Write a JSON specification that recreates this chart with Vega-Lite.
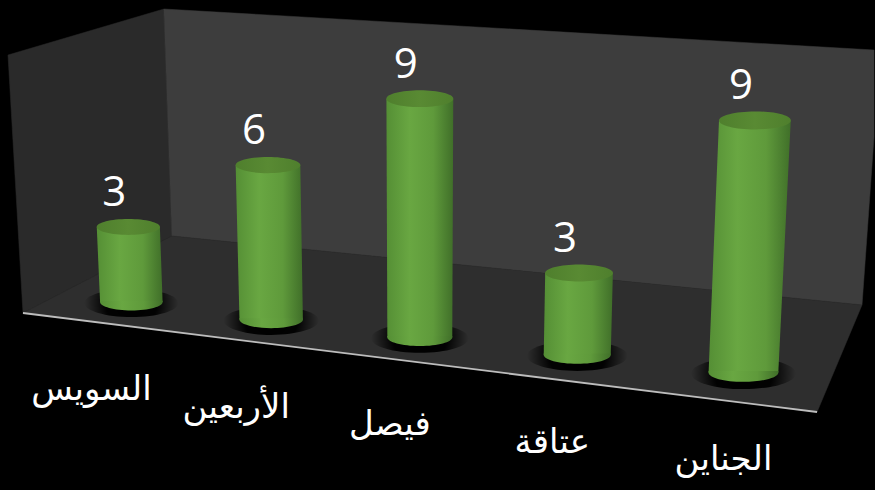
{
"$schema":"https://vega.github.io/schema/vega-lite/v6.json",
"width":875,"height":490,
"autosize":{"type":"fit","contains":"padding"},
"padding":0,
"background":"#000000",
"config":{"view":{"stroke":null},"axis":{"grid":false}},
"datasets":{
"frame":[
{"surface":"left wall","seq":1,"x":8,"y":55},
{"surface":"left wall","seq":2,"x":164,"y":9},
{"surface":"left wall","seq":3,"x":172,"y":236},
{"surface":"left wall","seq":4,"x":23,"y":313},
{"surface":"back wall","seq":1,"x":164,"y":9},
{"surface":"back wall","seq":2,"x":875,"y":50},
{"surface":"back wall","seq":3,"x":875,"y":137},
{"surface":"back wall","seq":4,"x":863,"y":305},
{"surface":"back wall","seq":5,"x":172,"y":236},
{"surface":"floor","seq":1,"x":23,"y":313},
{"surface":"floor","seq":2,"x":172,"y":236},
{"surface":"floor","seq":3,"x":863,"y":305},
{"surface":"floor","seq":4,"x":818,"y":412},
{"surface":"front edge","seq":1,"x":23,"y":313},
{"surface":"front edge","seq":2,"x":818,"y":412}
]},
"data":{"values":[
{"city":"السويس","order":0,"value":3},
{"city":"الأربعين","order":1,"value":6},
{"city":"فيصل","order":2,"value":9},
{"city":"عتاقة","order":3,"value":3},
{"city":"الجناين","order":4,"value":9}
]},
"transform":[
{"calculate":"131.5+135.6*datum.order+4.4*datum.order*datum.order","as":"bx"},
{"calculate":"302+17.6*datum.order","as":"by"},
{"calculate":"datum.value*(25+0.75*datum.order)","as":"h"},
{"calculate":"datum.by-datum.h","as":"ty"},
{"calculate":"datum.bx+0.00014*(datum.bx-420)*datum.h","as":"tx"},
{"calculate":"31.3+0.3*datum.order+0.15*datum.order*datum.order","as":"br"},
{"calculate":"datum.br+0.004*datum.h","as":"tr"},
{"calculate":"4*datum.br*datum.br","as":"baseSize"},
{"calculate":"4*datum.tr*datum.tr","as":"topSize"},
{"calculate":"9*datum.br*datum.br","as":"shadowSize"},
{"calculate":"datum.by+1","as":"shadowY"},
{"calculate":"datum.tx-14","as":"labelX"},
{"calculate":"datum.ty-34","as":"labelY"},
{"calculate":"datum.bx-40+5*datum.order","as":"cityX"},
{"calculate":"datum.by+88","as":"cityY"}
],
"layer":[
{"data":{"name":"frame"},"transform":[{"filter":"datum.surface=='left wall'"}],
"mark":{"type":"line","interpolate":"linear-closed","fill":"#2a2a2a","stroke":"#2a2a2a","strokeWidth":0.5},
"encoding":{"x":{"field":"x","type":"quantitative","scale":{"domain":[0,875]},"axis":null},"y":{"field":"y","type":"quantitative","scale":{"domain":[490,0]},"axis":null},"order":{"field":"seq"}}},
{"data":{"name":"frame"},"transform":[{"filter":"datum.surface=='back wall'"}],
"mark":{"type":"line","interpolate":"linear-closed","stroke":"#3c3c3c","strokeWidth":0.5,"fill":"#3d3d3d"},
"encoding":{"x":{"field":"x","type":"quantitative","scale":{"domain":[0,875]},"axis":null},"y":{"field":"y","type":"quantitative","scale":{"domain":[490,0]},"axis":null},"order":{"field":"seq"}}},
{"data":{"name":"frame"},"transform":[{"filter":"datum.surface=='floor'"}],
"mark":{"type":"line","interpolate":"linear-closed","fill":"#2e2e2e","stroke":"#2e2e2e","strokeWidth":0.5},
"encoding":{"x":{"field":"x","type":"quantitative","scale":{"domain":[0,875]},"axis":null},"y":{"field":"y","type":"quantitative","scale":{"domain":[490,0]},"axis":null},"order":{"field":"seq"}}},
{"data":{"name":"frame"},"transform":[{"filter":"datum.surface=='front edge'"}],
"mark":{"type":"line","stroke":"#bdbdbd","strokeWidth":1.8},
"encoding":{"x":{"field":"x","type":"quantitative","scale":{"domain":[0,875]},"axis":null},"y":{"field":"y","type":"quantitative","scale":{"domain":[490,0]},"axis":null},"order":{"field":"seq"}}},
{"mark":{"type":"point","filled":true,"opacity":1,"shape":"M-1,0 A1,0.3 0 1,0 1,0 A1,0.3 0 1,0 -1,0 Z","fill":{"gradient":"radial","x1":0.5,"y1":0.5,"r1":0,"x2":0.5,"y2":0.5,"r2":0.5,"stops":[{"offset":0,"color":"rgba(0,0,0,1)"},{"offset":0.55,"color":"rgba(0,0,0,0.95)"},{"offset":1,"color":"rgba(0,0,0,0)"}]}},
"encoding":{"x":{"field":"bx","type":"quantitative","scale":{"domain":[0,875]},"axis":null},"y":{"field":"shadowY","type":"quantitative","scale":{"domain":[490,0]},"axis":null},"size":{"field":"shadowSize","type":"quantitative","scale":null}}},
{"transform":[
{"fold":["by","ty"],"as":["end","py"]},
{"calculate":"datum.end=='by'?datum.bx-datum.br:datum.tx-datum.tr","as":"xl"},
{"calculate":"datum.end=='by'?datum.bx+datum.br:datum.tx+datum.tr","as":"xr"}],
"mark":{"type":"area","orient":"horizontal","fill":{"x1":0,"y1":0,"x2":1,"y2":0,"gradient":"linear","stops":[{"offset":0,"color":"#558f35"},{"offset":0.35,"color":"#69a742"},{"offset":0.7,"color":"#5f9a3b"},{"offset":1,"color":"#406f29"}]}},
"encoding":{"x":{"field":"xl","type":"quantitative","stack":null,"scale":{"domain":[0,875]},"axis":null},"x2":{"field":"xr"},"y":{"field":"py","type":"quantitative","scale":{"domain":[490,0]},"axis":null},"detail":{"field":"city","type":"nominal"}}},
{"mark":{"type":"point","filled":true,"opacity":1,"shape":"M-1,-0.04 L-1,0 A1,0.27 0 0,0 1,0 L1,-0.04 Z","fill":{"x1":0,"y1":0,"x2":1,"y2":0,"gradient":"linear","stops":[{"offset":0,"color":"#558f35"},{"offset":0.35,"color":"#69a742"},{"offset":0.7,"color":"#5f9a3b"},{"offset":1,"color":"#406f29"}]}},
"encoding":{"x":{"field":"bx","type":"quantitative","scale":{"domain":[0,875]},"axis":null},"y":{"field":"by","type":"quantitative","scale":{"domain":[490,0]},"axis":null},"size":{"field":"baseSize","type":"quantitative","scale":null}}},
{"mark":{"type":"point","filled":true,"opacity":1,"shape":"M-1,0 A1,0.25 0 1,0 1,0 A1,0.25 0 1,0 -1,0 Z","fill":{"x1":0,"y1":0,"x2":1,"y2":0,"gradient":"linear","stops":[{"offset":0,"color":"#4f7f2d"},{"offset":0.5,"color":"#598a33"},{"offset":1,"color":"#4f7f2d"}]}},
"encoding":{"x":{"field":"tx","type":"quantitative","scale":{"domain":[0,875]},"axis":null},"y":{"field":"ty","type":"quantitative","scale":{"domain":[490,0]},"axis":null},"size":{"field":"topSize","type":"quantitative","scale":null}}},
{"mark":{"type":"text","font":"Open Sans","fontSize":42,"color":"#ffffff","baseline":"middle","align":"center"},
"encoding":{"x":{"field":"labelX","type":"quantitative","scale":{"domain":[0,875]},"axis":null},"y":{"field":"labelY","type":"quantitative","scale":{"domain":[490,0]},"axis":null},"text":{"field":"value","type":"quantitative"}}},
{"mark":{"type":"text","font":"DejaVu Sans","fontSize":34,"color":"#ffffff","baseline":"middle","align":"center"},
"encoding":{"x":{"field":"cityX","type":"quantitative","scale":{"domain":[0,875]},"axis":null},"y":{"field":"cityY","type":"quantitative","scale":{"domain":[490,0]},"axis":null},"text":{"field":"city","type":"nominal"}}}
]
}
